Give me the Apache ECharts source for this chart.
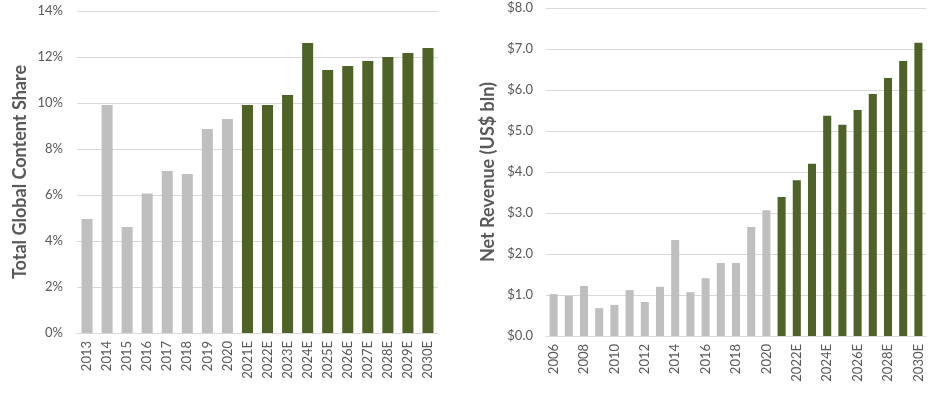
<!DOCTYPE html>
<html>
<head>
<meta charset="utf-8">
<script src="https://cdn.jsdelivr.net/npm/echarts@6/dist/echarts.min.js"></script>
<style>
  html, body { margin: 0; padding: 0; background: #fff; }
  #main { width: 934px; height: 399px; }
</style>
</head>
<body>
<div id="main"></div>
<script>
// 左图：内容份额
var shareYears = ['2013', '2014', '2015', '2016', '2017', '2018', '2019', '2020',
    '2021E', '2022E', '2023E', '2024E', '2025E', '2026E', '2027E', '2028E', '2029E', '2030E'];
var shareValues = [4.96, 9.91, 4.61, 6.06, 7.04, 6.91, 8.87, 9.30,
    9.91, 9.91, 10.35, 12.61, 11.43, 11.61, 11.83, 12.0, 12.17, 12.39];

// 右图：净收入
var revenueYears = ['2006', '2007', '2008', '2009', '2010', '2011', '2012', '2013', '2014',
    '2015', '2016', '2017', '2018', '2019', '2020',
    '2021E', '2022E', '2023E', '2024E', '2025E', '2026E', '2027E', '2028E', '2029E', '2030E'];
var revenueValues = [1.02, 0.98, 1.22, 0.68, 0.76, 1.12, 0.83, 1.20, 2.34,
    1.07, 1.41, 1.78, 1.78, 2.66, 3.07,
    3.39, 3.80, 4.20, 5.37, 5.15, 5.51, 5.90, 6.29, 6.71, 7.15];

var GRAY = '#BFBFBF';
var GREEN = '#4F6228';
var TEXT = '#595959';
var FONT = 'Lato';

// 估计值用绿色
function barColor(params) {
    return /E$/.test(params.name) ? GREEN : GRAY;
}

function xAxisOf(idx, data, interval) {
    return {
        type: 'category',
        gridIndex: idx,
        data: data,
        axisTick: { show: false },
        axisLine: { lineStyle: { color: '#D9D9D9', width: 1 } },
        axisLabel: {
            rotate: 90,
            interval: interval,
            color: TEXT,
            fontFamily: FONT,
            fontSize: 13,
            margin: 8
        }
    };
}

var chart = echarts.init(document.getElementById('main'), null, { renderer: 'canvas' });
chart.setOption({
    animation: false,
    grid: [
        { left: 77, right: 496, top: 11, bottom: 66 },
        { left: 546, right: 8, top: 8, bottom: 63 }
    ],
    xAxis: [
        xAxisOf(0, shareYears, 0),
        xAxisOf(1, revenueYears, 1)
    ],
    yAxis: [
        {
            type: 'value',
            gridIndex: 0,
            min: 0,
            max: 14,
            interval: 2,
            name: 'Total Global Content Share',
            nameLocation: 'middle',
            nameGap: 48,
            nameTextStyle: { color: TEXT, fontFamily: FONT, fontSize: 18, fontWeight: 'bold' },
            axisLine: { show: false },
            axisTick: { show: false },
            splitLine: { lineStyle: { color: '#D9D9D9' } },
            axisLabel: { color: TEXT, fontFamily: FONT, fontSize: 13, margin: 14, formatter: '{value}%' }
        },
        {
            type: 'value',
            gridIndex: 1,
            min: 0,
            max: 8,
            interval: 1,
            name: 'Net Revenue (US$ bln)',
            nameLocation: 'middle',
            nameGap: 49,
            nameTextStyle: { color: TEXT, fontFamily: FONT, fontSize: 18, fontWeight: 'bold' },
            axisLine: { show: false },
            axisTick: { show: false },
            splitLine: { lineStyle: { color: '#D9D9D9' } },
            axisLabel: {
                color: TEXT, fontFamily: FONT, fontSize: 13, margin: 13,
                formatter: function (v) { return '$' + v.toFixed(1); }
            }
        }
    ],
    series: [
        {
            type: 'bar',
            xAxisIndex: 0,
            yAxisIndex: 0,
            data: shareValues,
            barCategoryGap: '45%',
            itemStyle: { color: barColor }
        },
        {
            type: 'bar',
            xAxisIndex: 1,
            yAxisIndex: 1,
            data: revenueValues,
            barCategoryGap: '47%',
            itemStyle: { color: barColor }
        }
    ]
});
</script>
</body>
</html>
